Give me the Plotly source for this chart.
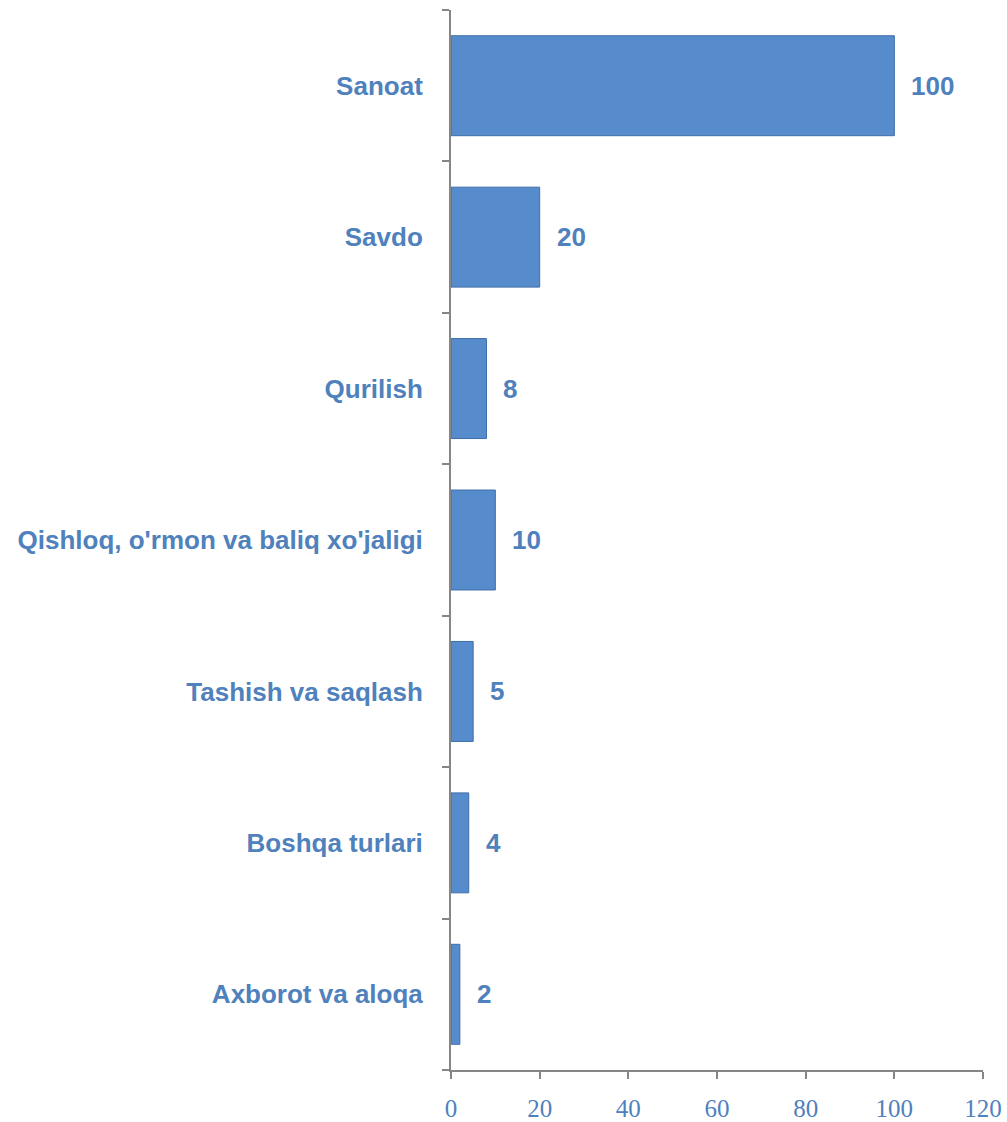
import plotly.graph_objects as go

categories = ["Sanoat", "Savdo", "Qurilish", "Qishloq, o'rmon va baliq xo'jaligi",
              "Tashish va saqlash", "Boshqa turlari", "Axborot va aloqa"]
values = [100, 20, 8, 10, 5, 4, 2]
x_ticks = [0, 20, 40, 60, 80, 100, 120]

blue = "#4F81BD"
fig = go.Figure()
fig.add_trace(go.Bar(
    y=categories, x=values, orientation="h", width=0.66,
    marker=dict(color="#568BCC", line=dict(color="#3F6EA8", width=1)),
    hoverinfo="x+y",
))
for c, v in zip(categories, values):
    fig.add_annotation(x=v, y=c, text=str(v), showarrow=False, xanchor="left",
                       xshift=15, font=dict(family="Liberation Sans, Arial", size=26, color=blue, weight="bold"))

fig.update_layout(
    width=1007, height=1122,
    margin=dict(l=451, r=24, t=10, b=52),
    plot_bgcolor="white", paper_bgcolor="white",
    showlegend=False,
    bargap=0.34,
)
fig.update_xaxes(range=[0, 120], tickvals=x_ticks, showgrid=False, zeroline=False,
                 automargin=False,
                 showline=True, linecolor="#868686", linewidth=2,
                 ticks="outside", ticklen=7, tickcolor="#868686", tickwidth=2,
                 ticklabelstandoff=8,
                 tickfont=dict(family="Liberation Serif, Times New Roman", size=25, color=blue))
fig.update_yaxes(categoryorder="array", categoryarray=categories[::-1],
                 range=[-0.5, 6.5], showgrid=False, zeroline=False,
                 automargin=False,
                 showline=True, linecolor="#868686", linewidth=2,
                 ticks="outside", ticklen=7, tickcolor="#868686", tickwidth=2,
                 tickson="boundaries", ticklabelstandoff=21,
                 tickfont=dict(family="Liberation Sans, Arial", size=26, color=blue, weight="bold"))
fig.write_html(
    "out.html",
    config={"displayModeBar": False},
    post_script="document.body.style.margin='0';document.body.style.overflow='hidden';"
                "document.documentElement.style.overflow='hidden';",
)
